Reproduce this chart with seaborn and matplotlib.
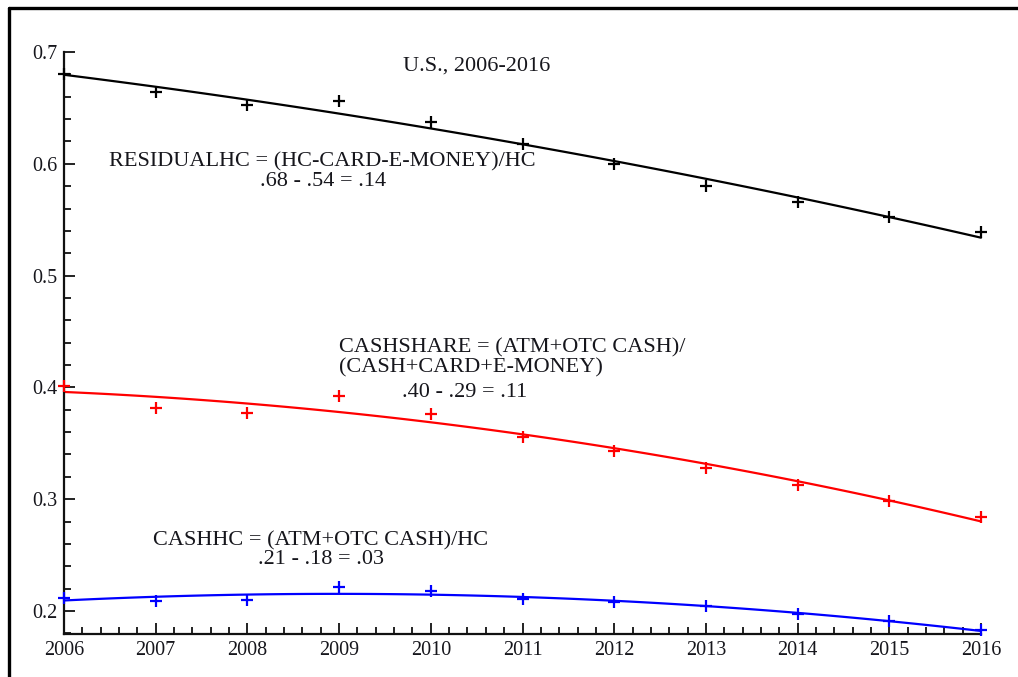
import numpy as np
import pandas as pd
import matplotlib
matplotlib.use("Agg")
import matplotlib.pyplot as plt
from matplotlib.lines import Line2D
from matplotlib.ticker import MultipleLocator
import seaborn as sns

years = [2006, 2007, 2008, 2009, 2010, 2011, 2012, 2013, 2014, 2015, 2016]
residual_hc = [0.680, 0.664, 0.653, 0.656, 0.637, 0.618, 0.600, 0.580, 0.566, 0.552, 0.539]
cash_share = [0.401, 0.382, 0.377, 0.392, 0.376, 0.356, 0.343, 0.328, 0.313, 0.298, 0.284]
cash_hc = [0.212, 0.209, 0.210, 0.221, 0.218, 0.211, 0.208, 0.204, 0.197, 0.191, 0.183]

series_names = ["RESIDUALHC", "CASHSHARE", "CASHHC"]
series_colors = ["black", "#ff0000", "#0000ff"]

title_text = "U.S., 2006-2016"
label_residual = "RESIDUALHC = (HC-CARD-E-MONEY)/HC\n.68 - .54 = .14"
label_share_1 = "CASHSHARE = (ATM+OTC CASH)/\n(CASH+CARD+E-MONEY)"
label_share_2 = ".40 - .29 = .11"
label_cashhc = "CASHHC = (ATM+OTC CASH)/HC\n.21 - .18 = .03"

df = pd.DataFrame({"year": years * 3,
                   "value": residual_hc + cash_share + cash_hc,
                   "series": sum([[n] * len(years) for n in series_names], [])})

sns.set_theme(style="white")
plt.rcParams["font.family"] = ["Liberation Serif", "DejaVu Serif"]

W, H = 1018, 677
fig = plt.figure(figsize=(W / 100, H / 100), dpi=100)
ax = fig.add_axes([64 / W, 1 - 634 / H, (981 - 64) / W, (634 - 52) / H])

txtc = "#16161c"
for name, col in zip(series_names, series_colors):
    sub = df[df["series"] == name]
    sns.regplot(data=sub, x="year", y="value", order=2, ci=None, scatter=False,
                ax=ax, line_kws=dict(color=col, lw=1.6, clip_on=False))
    sns.scatterplot(data=sub, x="year", y="value", marker="+", s=70, color=col,
                    linewidth=1.6, ax=ax, clip_on=False, zorder=5)

ax.set_xlim(2006, 2016)
ax.set_ylim(0.1794, 0.7)
ax.set_xlabel("")
ax.set_ylabel("")
ax.xaxis.set_major_locator(MultipleLocator(1))
ax.xaxis.set_minor_locator(MultipleLocator(0.2))
ax.yaxis.set_major_locator(MultipleLocator(0.1))
ax.yaxis.set_minor_locator(MultipleLocator(0.02))
ax.yaxis.set_major_formatter(matplotlib.ticker.FormatStrFormatter("%.1f"))
for s in ["top", "right"]:
    ax.spines[s].set_visible(False)
for s in ["left", "bottom"]:
    ax.spines[s].set_color("#111111")
    ax.spines[s].set_linewidth(1.6)
ax.tick_params(which="both", direction="in", color="#111111", width=1.3,
               labelsize=14.5, labelcolor=txtc, left=True, bottom=True)
ax.tick_params(which="major", length=8, pad=5)
ax.tick_params(which="minor", length=5)

fs = 16
ax.text(2010.5, 0.687, title_text, ha="center", va="center", fontsize=fs, color=txtc)
ax.text(2008.82, 0.593, label_residual, ha="center", va="center", fontsize=fs,
        color=txtc, linespacing=1.0)
ax.text(2009.0, 0.4265, label_share_1, ha="left", va="center", fontsize=fs,
        color=txtc, linespacing=1.0)
ax.text(2009.69, 0.3955, label_share_2, ha="left", va="center", fontsize=fs,
        color=txtc)
ax.text(2008.8, 0.2545, label_cashhc, ha="center", va="center", fontsize=fs,
        color=txtc, linespacing=1.0)

# outer frame (top and left edges visible)
fig.add_artist(Line2D([8.5 / W, 8.5 / W], [0, 1 - 7.5 / H], color="black", lw=2.4,
                      transform=fig.transFigure))
fig.add_artist(Line2D([8.5 / W, 1], [1 - 7.5 / H, 1 - 7.5 / H], color="black", lw=2.4,
                      transform=fig.transFigure))

fig.savefig("out.png", dpi=100)
